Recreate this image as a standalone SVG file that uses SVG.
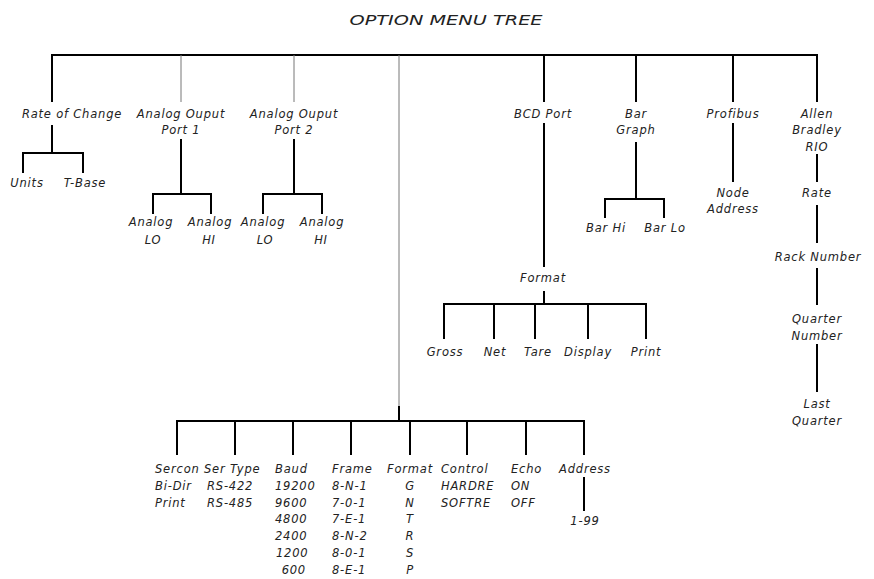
<svg xmlns="http://www.w3.org/2000/svg" width="874" height="579" viewBox="0 0 874 579">
<style>
text{font-family:"DejaVu Sans","Liberation Sans",sans-serif;font-style:oblique;font-size:11.5px;letter-spacing:0.8px;fill:#222}
.c{text-anchor:middle}
.e{text-anchor:end}
.k{stroke:#000;stroke-width:2;fill:none}
.g{stroke:#777;stroke-width:1;fill:none}
.t{font-size:14px;letter-spacing:0}
</style>
<rect width="874" height="579" fill="#fff"/>
<text class="c t" x="446" y="25" textLength="193" lengthAdjust="spacingAndGlyphs">OPTION MENU TREE</text>
<g id="connectors">
<path class="k" d="M52,102V55H817V102M544,55V102M636,55V102M733,55V102"/>
<path class="g" d="M181,55V102M294,55V102M399,55V406"/>
<path class="k" d="M52,125V153M23,173V153H83V173"/>
<path class="k" d="M181,139V194M153,214V194H211V214"/>
<path class="k" d="M294,139V194M263,214V194H322V214"/>
<path class="k" d="M544,123V267M544,291V304M444,339V304H646V339M494,304V339M535,304V339M588,304V339"/>
<path class="k" d="M636,142V199M605,218V199H664V218"/>
<path class="k" d="M733,123V182"/>
<path class="k" d="M817,154V182M817,205V243M817,268V305M817,344V392"/>
<path class="k" d="M399,406V421M177,455V421H584V455M235,421V455M293,421V455M351,421V455M410,421V455M467,421V455M526,421V455M584,477V511"/>
</g>
<g id="rate"><text class="c" x="72" y="118">Rate of Change</text></g>
<g id="units"><text class="c" x="27" y="187">Units</text></g>
<g id="tbase"><text class="c" x="85" y="187">T-Base</text></g>
<g id="aop1"><text class="c" x="181" y="118">Analog Ouput</text><text class="c" x="181" y="134">Port 1</text></g>
<g id="aop1lo"><text class="c" x="151" y="226">Analog</text><text class="c" x="153" y="244">LO</text></g>
<g id="aop1hi"><text class="c" x="210" y="226">Analog</text><text class="c" x="209" y="244">HI</text></g>
<g id="aop2"><text class="c" x="294" y="118">Analog Ouput</text><text class="c" x="294" y="134">Port 2</text></g>
<g id="aop2lo"><text class="c" x="263" y="226">Analog</text><text class="c" x="265" y="244">LO</text></g>
<g id="aop2hi"><text class="c" x="322" y="226">Analog</text><text class="c" x="321" y="244">HI</text></g>
<g id="bcd"><text class="c" x="543" y="118">BCD Port</text></g>
<g id="bcdformat"><text class="c" x="543" y="282">Format</text></g>
<g id="gross"><text class="c" x="445" y="356">Gross</text></g>
<g id="net"><text class="c" x="495" y="356">Net</text></g>
<g id="tare"><text class="c" x="538" y="356">Tare</text></g>
<g id="display"><text class="c" x="588" y="356">Display</text></g>
<g id="print"><text class="c" x="646" y="356">Print</text></g>
<g id="bargraph"><text class="c" x="636" y="118">Bar</text><text class="c" x="636" y="134">Graph</text></g>
<g id="barhi"><text class="c" x="606" y="232">Bar Hi</text></g>
<g id="barlo"><text class="c" x="665" y="232">Bar Lo</text></g>
<g id="profibus"><text class="c" x="733" y="118">Profibus</text></g>
<g id="node"><text class="c" x="733" y="197">Node</text><text class="c" x="733" y="213">Address</text></g>
<g id="ab"><text class="c" x="817" y="118">Allen</text><text class="c" x="817" y="134">Bradley</text><text class="c" x="817" y="151">RIO</text></g>
<g id="rateab"><text class="c" x="817" y="197">Rate</text></g>
<g id="rack"><text class="c" x="818" y="261">Rack Number</text></g>
<g id="quarter"><text class="c" x="817" y="323">Quarter</text><text class="c" x="817" y="340">Number</text></g>
<g id="last"><text class="c" x="817" y="408">Last</text><text class="c" x="817" y="425">Quarter</text></g>
<g id="sercon"><text x="155" y="473">Sercon</text><text x="155" y="490">Bi-Dir</text><text x="155" y="507">Print</text></g>
<g id="sertype"><text x="204" y="473">Ser Type</text><text x="207" y="490">RS-422</text><text x="207" y="507">RS-485</text></g>
<g id="baud"><text x="275" y="473">Baud</text><text x="275" y="490">19200</text><text x="275" y="507">9600</text><text x="275" y="523">4800</text><text x="275" y="540">2400</text><text x="276" y="557">1200</text><text class="e" x="306" y="574">600</text></g>
<g id="frame"><text x="332" y="473">Frame</text><text x="332" y="490">8-N-1</text><text x="332" y="507">7-0-1</text><text x="332" y="523">7-E-1</text><text x="332" y="540">8-N-2</text><text x="332" y="557">8-0-1</text><text x="332" y="574">8-E-1</text></g>
<g id="format"><text class="c" x="410" y="473">Format</text><text class="c" x="410" y="490">G</text><text class="c" x="410" y="507">N</text><text class="c" x="410" y="523">T</text><text class="c" x="410" y="540">R</text><text class="c" x="410" y="557">S</text><text class="c" x="410" y="574">P</text></g>
<g id="control"><text x="441" y="473">Control</text><text x="441" y="490">HARDRE</text><text x="441" y="507">SOFTRE</text></g>
<g id="echo"><text x="511" y="473">Echo</text><text x="511" y="490">ON</text><text x="511" y="507">OFF</text></g>
<g id="address"><text class="c" x="585" y="473">Address</text></g>
<g id="range"><text class="c" x="585" y="525">1-99</text></g>
</svg>
